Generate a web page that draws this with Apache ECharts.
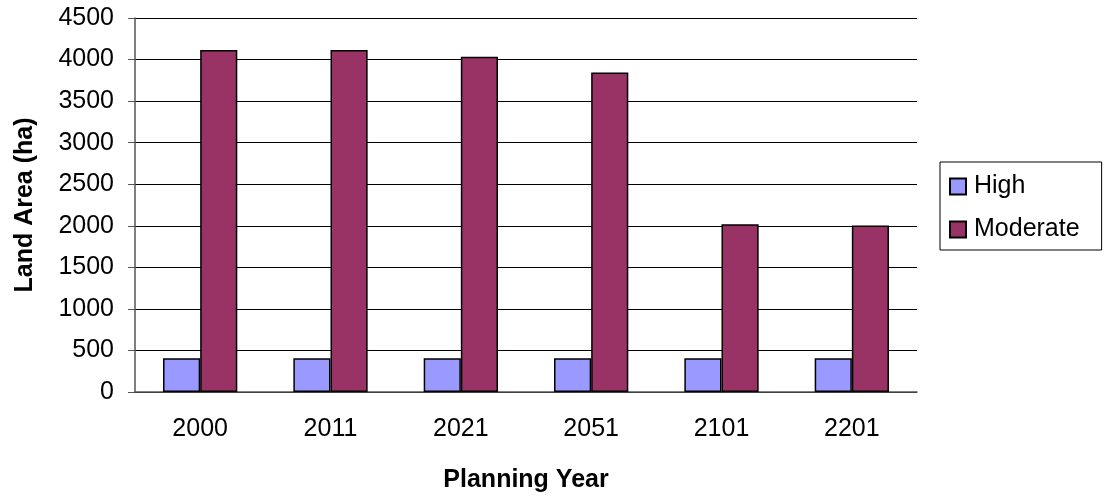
<!DOCTYPE html>
<html>
<head>
<meta charset="utf-8">
<script src="https://cdn.jsdelivr.net/npm/echarts@6/dist/echarts.min.js"></script>
<style>
  html, body { margin: 0; padding: 0; background: #fff; }
  #chart { width: 1104px; height: 499px; }
</style>
</head>
<body>
<div id="chart"></div>
<script>
/* data */
const years = ["2000", "2011", "2021", "2051", "2101", "2201"];
const highArea = [405, 405, 405, 405, 405, 405];
const moderateArea = [4115, 4115, 4035, 3845, 2018, 2002];

const FONT = "Liberation Sans, Arial, sans-serif";

const chart = echarts.init(document.getElementById("chart"));
chart.setOption({
    animation: false,
    grid: { left: 135, right: 187, top: 18, bottom: 107 },
    legend: {
        orient: "vertical",
        left: 940, top: 162,
        padding: [12, 22, 8, 9],
        itemGap: 18,
        itemWidth: 16, itemHeight: 16,
        icon: "rect",
        borderColor: "#000", borderWidth: 1,
        textStyle: { fontFamily: FONT, fontSize: 25, color: "#000", padding: [0, 0, 0, 3] },
        data: ["High", "Moderate"],
    },
    xAxis: {
        type: "category",
        data: years,
        name: "Planning Year",
        nameLocation: "middle",
        nameGap: 76,
        nameTextStyle: { fontFamily: FONT, fontSize: 25, fontWeight: "bold", color: "#000" },
        axisLine: { lineStyle: { color: "#555", width: 1.5 } },
        axisTick: { length: 7, lineStyle: { color: "#555" } },
        axisLabel: { fontFamily: FONT, fontSize: 25, color: "#000", margin: 25 },
    },
    yAxis: {
        type: "value",
        min: 0, max: 4500, interval: 500,
        name: "Land Area (ha)",
        nameLocation: "middle",
        nameGap: 97,
        nameTextStyle: { fontFamily: FONT, fontSize: 25, fontWeight: "bold", color: "#000" },
        axisLine: { show: true, lineStyle: { color: "#555", width: 1.5 } },
        axisTick: { show: true, length: 7, lineStyle: { color: "#555" } },
        axisLabel: { fontFamily: FONT, fontSize: 25, color: "#000", margin: 21, formatter: v => String(v) },
        splitLine: { lineStyle: { color: "#000", width: 1 } },
    },
    series: [
        {
            name: "High", type: "bar", data: highArea,
            barGap: "0%", barCategoryGap: "43%",
            itemStyle: { color: "#9999FF", borderColor: "#000", borderWidth: 1.5 },
        },
        {
            name: "Moderate", type: "bar", data: moderateArea,
            itemStyle: { color: "#993366", borderColor: "#000", borderWidth: 1.5 },
        },
    ],
});
</script>
</body>
</html>
